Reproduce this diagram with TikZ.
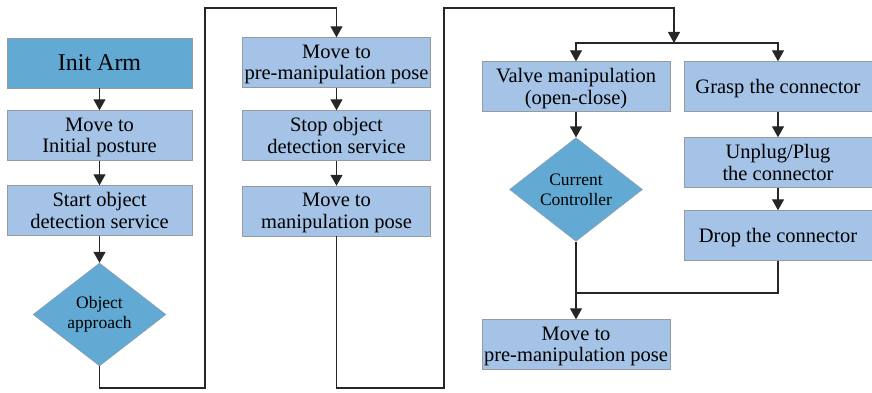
\documentclass[tikz,border=0pt]{standalone}
\usepackage{fontspec}
\setmainfont{Liberation Serif}
\usetikzlibrary{shapes.geometric,arrows.meta}
\definecolor{darkblue}{RGB}{98,169,212}
\definecolor{lightblue}{RGB}{164,195,230}
\definecolor{edgegray}{RGB}{150,155,160}
\begin{document}
\begin{tikzpicture}[x=1pt,y=-1pt,
    box/.style={draw=edgegray,fill=lightblue,minimum width=188pt,minimum height=50pt,inner sep=0pt,text depth=0pt,align=center,font=\fontsize{20.5}{21.5}\selectfont},
    decision/.style={diamond,draw=edgegray,fill=darkblue,minimum width=133pt,minimum height=103pt,inner sep=0pt,align=center,font=\fontsize{17.5}{20}\selectfont},
    arr/.style={-{Triangle[length=11pt,width=12pt]},line width=1.3pt,black!85},
    link/.style={line width=1.3pt,black!85}]
    \useasboundingbox (0,0) rectangle (872,393);
    % first column
    \node[box,fill=darkblue,minimum width=185pt,font=\fontsize{24}{26}\selectfont] (init) at (99.5,63) {Init Arm};
    \node[box,minimum width=185pt] (moveinit) at (99.5,135.5) {Move to\\Initial posture};
    \node[box,minimum width=185pt] (startdet) at (99.5,210.5) {Start object\\detection service};
    \node[decision] (objapp) at (99.5,314.5) {Object\\approach};
    % second column
    \node[box] (premanip) at (336.5,62.5) {Move to\\pre-manipulation pose};
    \node[box] (stopdet) at (336.5,135.5) {Stop object\\detection service};
    \node[box] (manip) at (336.5,211) {Move to\\manipulation pose};
    % third column
    \node[box] (valve) at (576,86.5) {Valve manipulation\\(open-close)};
    \node[decision] (curctrl) at (576,189.5) {Current\\Controller};
    \node[box] (final) at (576,344.5) {Move to\\pre-manipulation pose};
    \node[box] (grasp) at (778,86.5) {Grasp the connector};
    \node[box] (unplug) at (778,162.5) {Unplug/Plug\\the connector};
    \node[box] (drop) at (778,235.5) {Drop the connector};
    \coordinate (split) at (674,43);
    \coordinate (merge) at (576,293);
    % connectors
    \draw[arr] (init) -- (moveinit);
    \draw[arr] (moveinit) -- (startdet);
    \draw[arr] (startdet) -- (objapp);
    \draw[arr] (objapp.south) |- (205,388) -- (205,8) -| (premanip.north);
    \draw[arr] (premanip) -- (stopdet);
    \draw[arr] (stopdet) -- (manip);
    \draw[arr] (manip.south) |- (444,388) -- (444,8) -| (split);
    \draw[arr] (split) -| (valve.north);
    \draw[arr] (split) -| (grasp.north);
    \draw[arr] (valve) -- (curctrl);
    \draw[arr] (grasp) -- (unplug);
    \draw[arr] (unplug) -- (drop);
    \draw[link] (drop.south) |- (merge);
    \draw[arr] (curctrl) -- (final);
\end{tikzpicture}
\end{document}
